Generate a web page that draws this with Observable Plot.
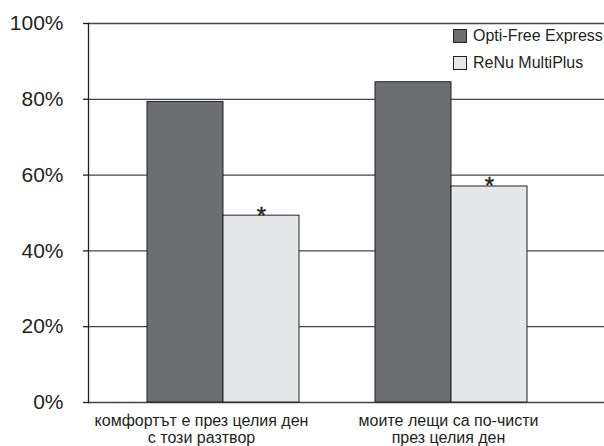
<!DOCTYPE html>
<html><head><meta charset="utf-8">
<script src="https://cdn.jsdelivr.net/npm/d3@7"></script>
<script src="https://cdn.jsdelivr.net/npm/@observablehq/plot@0.6"></script>
<style>
body{margin:0;background:#fff;font-family:"Liberation Sans",Arial,sans-serif;}
#wrap{position:relative;width:604px;height:446px;}
.sw{position:absolute;left:453px;width:12px;height:12px;border:1px solid #231f20;}
.lt{position:absolute;left:473px;font-size:16px;line-height:16px;color:#231f20;white-space:nowrap;}
</style></head><body><div id="wrap"></div>
<script>
const groups = ["комфортът е през целия ден\nс този разтвор", "моите лещи са по-чисти\nпрез целия ден"];
const series = ["Opti-Free Express", "ReNu MultiPlus"];
const optiValues = [79.3, 84.5];
const renuValues = [49.3, 57.0];
const yTicks = [0, 20, 40, 60, 80, 100];
const colors = ["#6d6e71", "#e6e7e8"];
const labelShift = [16, 35];

const key = (g, s) => g + "|" + s;
const data = groups.flatMap((g, i) => [
  {group: g, series: series[0], value: optiValues[i], key: key(g, series[0])},
  {group: g, series: series[1], value: renuValues[i], key: key(g, series[1])}
]);
// x domain: the bars of each group side by side, with an empty slot between groups
const xDomain = groups.flatMap((g, i) => (i > 0 ? ["gap" + i] : []).concat(series.map(s => key(g, s))));
const starred = data.filter(d => d.series === series[1]);

const plot = Plot.plot({
  width: 604, height: 446,
  marginLeft: 88, marginRight: 0, marginTop: 23, marginBottom: 44,
  style: {fontFamily: "Liberation Sans, Arial, sans-serif", background: "white", color: "#231f20", overflow: "visible"},
  x: {type: "band", domain: xDomain, paddingInner: 0, paddingOuter: 0.874, align: 0.4316, axis: null},
  y: {domain: [0, 100], label: null, axis: null},
  color: {domain: series, range: colors},
  marks: [
    Plot.ruleY(yTicks, {y: d => d, stroke: "#444446", strokeWidth: 1.3}),
    Plot.frame({anchor: "left", stroke: "#231f20", strokeWidth: 1.3}),
    Plot.axisY({ticks: yTicks, tickFormat: d => d + "%", tickSize: 5, tickPadding: 20, fontSize: 21, stroke: "#231f20", strokeWidth: 1.3, fill: "#231f20"}),
    Plot.barY(data, {x: "key", y: "value", fill: "series", stroke: "#231f20", strokeWidth: 1}),
    Plot.text(starred, {x: "key", y: "value", text: () => "*", lineAnchor: "bottom", dy: 8, fontSize: 24, fill: "#231f20", stroke: "#231f20", strokeWidth: 0.4}),
    ...groups.map((g, i) => Plot.text([g], {x: d => key(d, series[0]), text: d => d, frameAnchor: "bottom", lineAnchor: "top", dy: 11, dx: labelShift[i], fontSize: 16, lineHeight: 1.06, fill: "#231f20"}))
  ]
});
const wrap = document.getElementById("wrap");
wrap.appendChild(plot);
series.forEach((s, i) => {
  const sw = document.createElement("div");
  sw.className = "sw";
  sw.style.top = (29 + i * 26.5) + "px";
  sw.style.background = colors[i];
  wrap.appendChild(sw);
  const t = document.createElement("div");
  t.className = "lt";
  t.style.top = (28.2 + i * 26.5) + "px";
  t.textContent = s;
  wrap.appendChild(t);
});
</script></body></html>
